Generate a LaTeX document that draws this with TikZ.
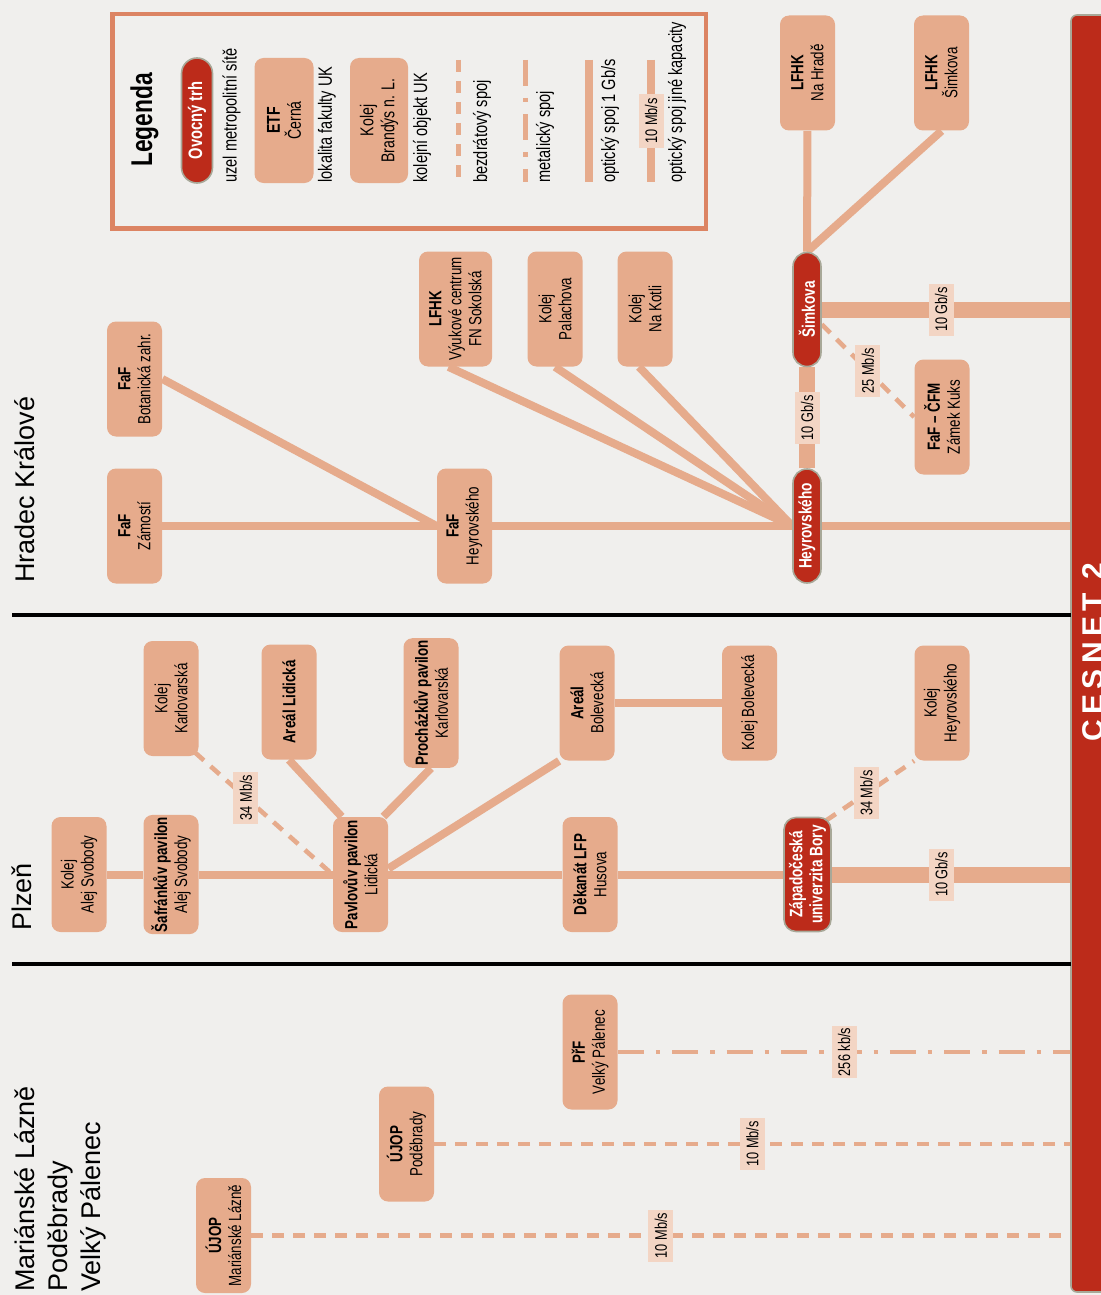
\documentclass[tikz,border=0pt]{standalone}
\usepackage{fontspec}
\setmainfont{Liberation Sans}
\newfontfamily\condfont[FakeStretch=0.76]{Liberation Sans}
\newfontfamily\barfont[LetterSpace=18]{Liberation Sans}
\usetikzlibrary{calc}
\definecolor{pozadi}{HTML}{F0EFED}
\definecolor{losos}{HTML}{E6AB8C}
\definecolor{cesred}{HTML}{BC2B1A}
\definecolor{rychbg}{HTML}{F3D5C4}
\definecolor{legram}{HTML}{DC8463}
\definecolor{sedy}{HTML}{A8A898}
\pgfdeclarelayer{background}
\pgfsetlayers{background,main}
\tikzset{
    misto/.style={rectangle, rounded corners=4.5pt, fill=losos, rotate=90, align=center, inner sep=1pt, minimum width=57.5pt, minimum height=27.5pt, font=\condfont\fontsize{8.8}{10}\selectfont},
    uzel/.style={rectangle, rounded corners=7pt, fill=cesred, draw=sedy, line width=0.8pt, rotate=90, align=center, text=white, inner sep=1pt, minimum width=57pt, minimum height=14pt, font=\condfont\bfseries\fontsize{9}{10}\selectfont},
    rychlost/.style={rectangle, fill=rychbg, rotate=90, inner sep=0.5pt, minimum width=26pt, minimum height=12.5pt, font=\condfont\fontsize{8.4}{9}\selectfont},
    opt/.style={draw=losos, line width=4pt},
    optfat/.style={draw=losos, line width=8pt},
    bezdrat/.style={draw=losos, line width=2.3pt, dash pattern=on 6pt off 4.5pt},
    metal/.style={draw=losos, line width=2.3pt, dash pattern=on 13pt off 6pt on 2.2pt off 6pt},
    mesto/.style={rotate=90, anchor=base west, inner sep=0pt, font=\fontsize{13.5}{16.5}\selectfont},
    popis/.style={rotate=90, anchor=west, inner sep=0pt, font=\condfont\fontsize{9.6}{11}\selectfont},
    predel/.style={draw=black, line width=2pt}
}

\begin{document}
\begin{tikzpicture}[x=0.5pt, y=-0.5pt]
    \useasboundingbox (0,0) rectangle (1101,1295);
    \begin{pgfonlayer}{background}
        \fill[pozadi] (0,0) rectangle (1101,1295);
    \end{pgfonlayer}

    % --- Legenda ---
    \draw[legram, line width=2.25pt] (112.5,14) rectangle (706,228.5);
    \node[rotate=90, font=\condfont\bfseries\fontsize{15}{18}\selectfont] (legtitle) at (144.5,120) {Legenda};
    \node[uzel, minimum width=62.5pt, minimum height=15.5pt, rounded corners=7.75pt, font=\condfont\bfseries\fontsize{9.7}{11}\selectfont] (legovoc) at (197,120.5) {Ovocný trh};
    \node[misto, minimum width=62.5pt, minimum height=29.5pt, font=\condfont\fontsize{9.3}{10.5}\selectfont] (legetf) at (284,120.5) {\textbf{ETF}\\Černá};
    \node[misto, minimum width=62.5pt, minimum height=29pt, font=\condfont\fontsize{9.3}{10.5}\selectfont] (legkol) at (379,120.5) {Kolej\\Brandýs n. L.};
    \draw[bezdrat] (458.5,60) -- (458.5,182);
    \draw[metal] (525.5,60) -- (525.5,182);
    \draw[opt] (588.5,60) -- (588.5,182);
    \draw[opt] (651,60) -- node[rychlost, minimum width=27pt] (legrych) {10 Mb/s} (651,182);
    \node[popis] (pUzel) at (231.5,183) {uzel metropolitní sítě};
    \node[popis] (pFak) at (327,183) {lokalita fakulty UK};
    \node[popis] (pKol) at (422,183) {kolejní objekt UK};
    \node[popis] (pBez) at (482,183) {bezdrátový spoj};
    \node[popis] (pMet) at (545,183) {metalický spoj};
    \node[popis] (pOpt) at (610,183) {optický spoj 1 Gb/s};
    \node[popis] (pJin) at (677,183) {optický spoj jiné kapacity};

    % --- CESNET 2 ---
    \node[rotate=90, fill=cesred, draw=sedy, line width=0.8pt, rounded corners=3pt, minimum width=638.5pt, minimum height=22pt, inner sep=0pt] (cesnet) at (1093,653.5) {};
    \node[rotate=90, text=white, inner sep=0pt, font=\barfont\bfseries\fontsize{15}{18}\selectfont] (cesnetname) at (1093,652) {CESNET 2};

    % --- Hradec Králové ---
    \node[mesto] (tHK) at (34,583) {Hradec Králové};
    \node[misto] (fafzam) at (134.5,526) {\textbf{FaF}\\Zámostí};
    \node[misto] (fafbot) at (134.5,379) {\textbf{FaF}\\Botanická zahr.};
    \node[misto] (fafhey) at (464.5,526) {\textbf{FaF}\\Heyrovského};
    \node[misto, minimum height=36.5pt] (lfhkfn) at (455.5,309) {\textbf{LFHK}\\Výukové centrum\\FN Sokolská};
    \node[misto] (kolpal) at (555,309) {Kolej\\Palachova};
    \node[misto] (kolkot) at (645,309) {Kolej\\Na Kotli};
    \node[uzel] (heyr) at (807,526) {Heyrovského};
    \node[uzel] (simk) at (807,309.5) {Šimkova};
    \node[misto] (lfhkhr) at (807.5,73) {\textbf{LFHK}\\Na Hradě};
    \node[misto] (lfhksi) at (941.5,73) {\textbf{LFHK}\\Šimkova};
    \node[misto] (fafcfm) at (942,417) {\textbf{FaF – ČFM}\\Zámek Kuks};
    \draw[predel] (12,614.5) -- (1071,614.5);

    % --- Plzeň ---
    \node[mesto] (tPl) at (32,931) {Plzeň};
    \node[misto] (kolsvo) at (79,874.5) {Kolej\\Alej Svobody};
    \node[misto] (safr) at (171,874.5) {\textbf{Šafránkův pavilon}\\Alej Svobody};
    \node[misto] (pavl) at (360.5,874.5) {\textbf{Pavlovův pavilon}\\Lidická};
    \node[misto] (kolkar) at (171,698.5) {Kolej\\Karlovarská};
    \node[misto] (areli) at (289,702) {\textbf{Areál Lidická}};
    \node[misto] (proch) at (431,703) {\textbf{Procházkův pavilon}\\Karlovarská};
    \node[misto] (arebol) at (587,703) {\textbf{Areál}\\Bolevecká};
    \node[misto] (kolbol) at (749.5,703) {Kolej Bolevecká};
    \node[misto] (dekan) at (590,874.5) {\textbf{Děkanát LFP}\\Husova};
    \node[uzel, minimum height=23.5pt, rounded corners=6pt] (zcu) at (807.5,874.5) {Západočeská\\univerzita Bory};
    \node[misto] (kolhey) at (942,703) {Kolej\\Heyrovského};
    \draw[predel] (12,963.5) -- (1071,963.5);

    % --- Mariánské Lázně, Poděbrady, Velký Pálenec ---
    \node[mesto] (tML) at (34,1292) {Mariánské Lázně};
    \node[mesto] (tPo) at (67,1292) {Poděbrady};
    \node[mesto] (tVP) at (100,1292) {Velký Pálenec};
    \node[misto] (ujopml) at (223.5,1235.5) {\textbf{ÚJOP}\\Mariánské Lázně};
    \node[misto] (ujoppo) at (406.5,1144) {\textbf{ÚJOP}\\Poděbrady};
    \node[misto] (prfvp) at (590,1052) {\textbf{PřF}\\Velký Pálenec};

    % --- spoje ---
    \begin{pgfonlayer}{background}
        \draw[opt] (fafzam) -- (fafhey) -- (heyr);
        \draw[opt] (fafbot.south) -- (fafhey.north);
        \draw[opt] ($(lfhkfn.west)+(-7,0)$) -- (heyr.north);
        \draw[opt] (kolpal.west) -- (heyr.north);
        \draw[opt] ($(kolkot.west)+(-6,0)$) -- (heyr.north);
        \draw[opt] (heyr) -- (heyr -| cesnet.north);
        \draw[optfat] (heyr) -- node[rychlost] (r1) {10 Gb/s} (simk);
        \draw[optfat] (simk) -- node[rychlost, pos=0.48] (r2) {10 Gb/s} (simk -| cesnet.north);
        \draw[opt] (lfhkhr) -- (simk);
        \draw[opt] (lfhksi.west) -- (simk.east);
        \draw[bezdrat] (simk) -- node[rychlost] (r3) {25 Mb/s} (fafcfm.north);

        \draw[opt] (kolsvo) -- (safr) -- (pavl) -- (dekan) -- (zcu);
        \draw[bezdrat] ($(kolkar.south west)+(-4,-4)$) -- node[rychlost, pos=0.37] (r4) {34 Mb/s} (pavl.north);
        \draw[opt] (areli.west) -- ($(pavl.north east)+(9,0)$);
        \draw[opt] (proch.west) -- ($(pavl.south east)+(-5,0)$);
        \draw[opt] ($(pavl.south)+(0,-6)$) -- (arebol.north west);
        \draw[opt] (arebol) -- (kolbol);
        \draw[optfat] (zcu) -- node[rychlost, pos=0.46] (r5) {10 Gb/s} (zcu -| cesnet.north);
        \draw[bezdrat] ($(zcu.south east)+(-6,4)$) -- node[rychlost, pos=0.46] (r6) {34 Mb/s} (kolhey.north west);

        \draw[bezdrat] (ujopml) -- node[rychlost] (r7) {10 Mb/s} (ujopml -| cesnet.north);
        \draw[bezdrat] (ujoppo) -- node[rychlost] (r8) {10 Mb/s} (ujoppo -| cesnet.north);
        \draw[metal] (prfvp) -- node[rychlost] (r9) {256 kb/s} (prfvp -| cesnet.north);
    \end{pgfonlayer}
\end{tikzpicture}
\end{document}
